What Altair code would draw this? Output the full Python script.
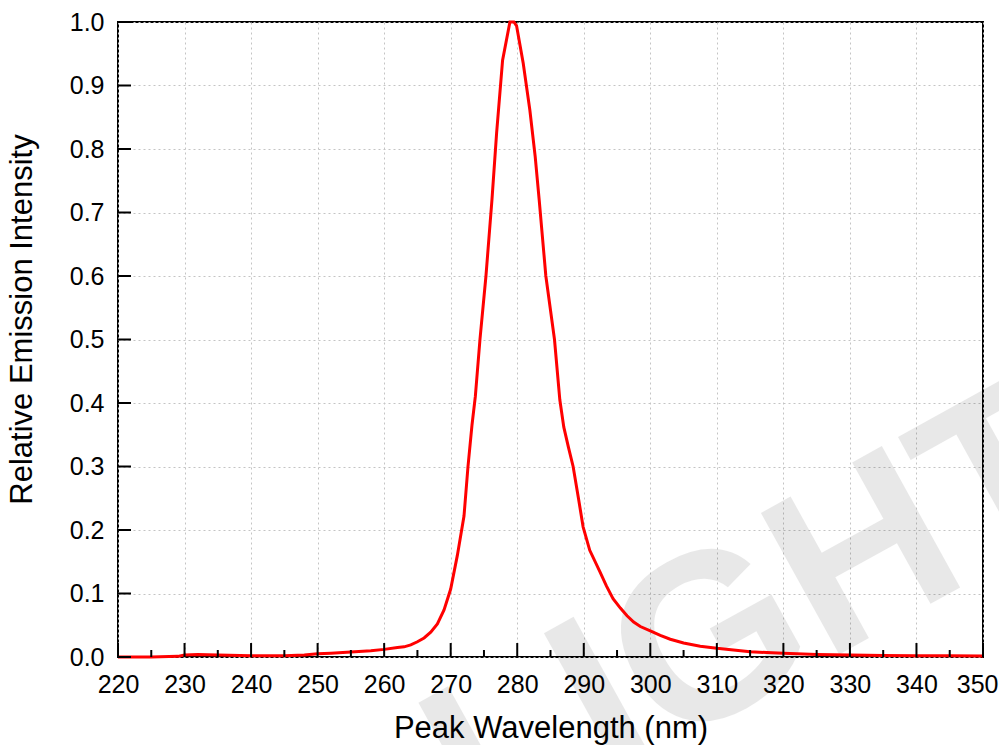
import altair as alt
import pandas as pd

# Spectrum
wavelength = [220, 225, 229, 230, 232, 235, 240, 245, 248, 250,
              252, 255, 258, 260, 262, 263, 264, 265, 266, 267,
              268, 269, 270, 271, 272, 272.6, 273.2, 273.7, 274.4, 275.3,
              276.2, 276.9, 277.8, 278.9, 279.5, 279.9, 280.9, 281.9, 282.7, 283.3,
              284.3, 285.6, 286.4, 287.0, 287.7, 288.4, 289.2, 289.9, 290.9, 292.4,
              293.4, 294.4, 295.5, 296.5, 297.5, 298.5, 300, 301.5, 303, 305,
              307.5, 310, 312.5, 315, 317.5, 320, 325, 330, 335, 340,
              345, 350]
intensity = [0.000, 0.000, 0.001, 0.003, 0.004, 0.003, 0.002, 0.002, 0.003, 0.005,
             0.006, 0.008, 0.010, 0.012, 0.015, 0.016, 0.019, 0.024, 0.030, 0.039,
             0.052, 0.074, 0.107, 0.160, 0.222, 0.300, 0.365, 0.410, 0.500, 0.600,
             0.720, 0.825, 0.940, 1.000, 1.000, 0.994, 0.935, 0.861, 0.788, 0.720,
             0.600, 0.500, 0.405, 0.362, 0.330, 0.300, 0.250, 0.205, 0.168, 0.135,
             0.112, 0.092, 0.077, 0.065, 0.055, 0.048, 0.041, 0.034, 0.028, 0.022,
             0.017, 0.0137, 0.011, 0.0084, 0.007, 0.006, 0.004, 0.003, 0.0025, 0.002,
             0.0018, 0.0015]

x_ticks = [220, 230, 240, 250, 260, 270, 280, 290, 300, 310, 320, 330, 340, 350]
x_minor = [225, 235, 245, 255, 265, 275, 285, 295, 305, 315, 325, 335, 345]
y_ticks = [0.0, 0.1, 0.2, 0.3, 0.4, 0.5, 0.6, 0.7, 0.8, 0.9, 1.0]
watermark = ["LIGHT"]

FONT = "Liberation Sans"
XDOM = [220, 350]
YDOM = [0, 1]

df = pd.DataFrame({"wl": wavelength, "val": intensity})
df_xmaj = pd.DataFrame({"x": x_ticks})
df_xmin = pd.DataFrame({"x": x_minor})
df_y = pd.DataFrame({"y": y_ticks})
df_wm = pd.DataFrame({"t": watermark})

xscale = alt.Scale(domain=XDOM, nice=False, zero=False)
yscale = alt.Scale(domain=YDOM, nice=False)

last_x = x_ticks[-1]
xaxis = alt.Axis(values=x_ticks, format="d", grid=True, gridColor="#c4c4c4",
                 gridDash=[2, 3], gridWidth=1, ticks=False, domain=False,
                 labelFontSize=25, labelFont=FONT, labelColor="black",
                 labelPadding=15, labelFlush=False, labelOverlap=False,
                 labelBound=False,
                 labelAlign=alt.expr(f"datum.value == {last_x} ? 'right' : 'center'"),
                 labelOffset=alt.expr(f"datum.value == {last_x} ? 15 : 0"),
                 title="Peak Wavelength (nm)",
                 titleFontSize=31, titleFont=FONT, titleFontWeight="normal",
                 titleColor="black", titlePadding=16)
yaxis = alt.Axis(values=y_ticks, format=".1f", grid=True, gridColor="#c4c4c4",
                 gridDash=[2, 3], gridWidth=1, ticks=False, domain=False,
                 labelFontSize=25, labelFont=FONT, labelColor="black",
                 labelPadding=14, labelFlush=False, labelOverlap=False,
                 labelBound=False,
                 title="Relative Emission Intensity",
                 titleFontSize=31, titleFont=FONT, titleFontWeight="normal",
                 titleColor="black", titlePadding=31, titleY=297)

wm = alt.Chart(df_wm).mark_text(
    angle=331, fontSize=235, fontWeight="bold", font=FONT,
    color="black", opacity=0.085, align="center", baseline="middle"
).encode(
    x=alt.datum(316, scale=xscale),
    y=alt.datum(0.06, scale=yscale),
    text="t:N",
)

line = alt.Chart(df).mark_line(color="#ff0000", strokeWidth=3).encode(
    x=alt.X("wl:Q", scale=xscale, axis=xaxis),
    y=alt.Y("val:Q", scale=yscale, axis=yaxis),
)

tick_major = alt.Chart(df_xmaj).mark_rule(color="black", strokeWidth=2).encode(
    x="x:Q", y=alt.datum(0), y2=alt.datum(0.022)
)
tick_minor = alt.Chart(df_xmin).mark_rule(color="black", strokeWidth=2).encode(
    x="x:Q", y=alt.datum(0), y2=alt.datum(0.011)
)
tick_left = alt.Chart(df_y).mark_rule(color="black", strokeWidth=2).encode(
    y="y:Q", x=alt.datum(220), x2=alt.datum(221.95)
)

chart = alt.layer(wm, line, tick_major, tick_minor, tick_left).properties(
    width=865, height=635,
    padding={"left": 110, "top": 14, "right": 16, "bottom": 88},
    autosize=alt.AutoSizeParams(type="none"),
    background="white",
).configure_view(stroke="black", strokeWidth=2)

chart.save("out.html", embed_options={"renderer": "svg", "actions": False})
